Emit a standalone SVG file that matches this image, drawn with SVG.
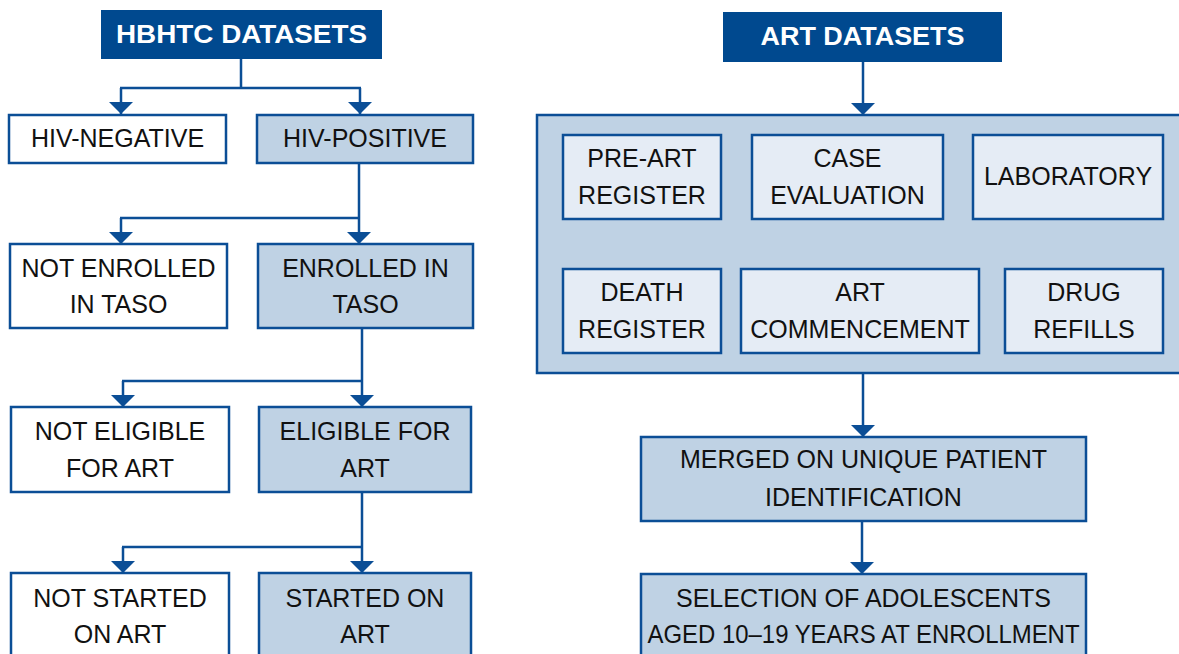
<svg xmlns="http://www.w3.org/2000/svg" width="1179" height="654" viewBox="0 0 1179 654">
<style>
.hdr{fill:#00498f;stroke:#00498f;stroke-width:2}
.hdrt{fill:#ffffff;font-family:"Liberation Sans",Arial,sans-serif;font-weight:bold;font-size:26px;text-anchor:middle}
.w{fill:#ffffff;stroke:#0b4e96;stroke-width:2.5}
.b{fill:#bfd2e4;stroke:#0b4e96;stroke-width:2.5}
.s{fill:#e5ecf5;stroke:#0b4e96;stroke-width:2.5}
.t{fill:#111111;font-family:"Liberation Sans",Arial,sans-serif;font-size:25px;text-anchor:middle}
.c{fill:none;stroke:#0b4e96;stroke-width:2.5}
</style>
<defs>
<marker id="ah" viewBox="0 0 12 24" refX="12" refY="12" markerWidth="12" markerHeight="24" markerUnits="userSpaceOnUse" orient="auto">
<path d="M0,0 L12,12 L0,24 z" fill="#0b4e96"/>
</marker>
</defs>
<rect width="1179" height="654" fill="#ffffff"/>

<g id="connectors">
<path class="c" d="M241,58 V88 M120,88 H361"/>
<path class="c" d="M121,88 V114" marker-end="url(#ah)"/>
<path class="c" d="M360,88 V114" marker-end="url(#ah)"/>
<path class="c" d="M359,163 V218 M120,218 H360"/>
<path class="c" d="M121,218 V244" marker-end="url(#ah)"/>
<path class="c" d="M359,218 V244" marker-end="url(#ah)"/>
<path class="c" d="M362,328 V381 M122,381 H363"/>
<path class="c" d="M123,381 V407" marker-end="url(#ah)"/>
<path class="c" d="M362,381 V407" marker-end="url(#ah)"/>
<path class="c" d="M362,492 V547 M122,547 H363"/>
<path class="c" d="M123,547 V573" marker-end="url(#ah)"/>
<path class="c" d="M362,547 V573" marker-end="url(#ah)"/>
<path class="c" d="M863,61 V115" marker-end="url(#ah)"/>
<path class="c" d="M863,373 V437" marker-end="url(#ah)"/>
<path class="c" d="M862,521 V574" marker-end="url(#ah)"/>
</g>

<g id="hbhtc">
<rect class="hdr" x="102" y="11" width="279" height="47"/>
<text class="hdrt" x="241.5" y="43" textLength="251" lengthAdjust="spacingAndGlyphs">HBHTC DATASETS</text>
</g>
<g id="hiv-negative">
<rect class="w" x="9" y="115" width="217" height="48"/>
<text class="t" x="117.5" y="147">HIV-NEGATIVE</text>
</g>
<g id="hiv-positive">
<rect class="b" x="257" y="115" width="216" height="48"/>
<text class="t" x="365" y="147">HIV-POSITIVE</text>
</g>
<g id="not-enrolled">
<rect class="w" x="10" y="244" width="217" height="84"/>
<text class="t" x="118.5" y="277">NOT ENROLLED</text>
<text class="t" x="118.5" y="313">IN TASO</text>
</g>
<g id="enrolled">
<rect class="b" x="258" y="244" width="215" height="84"/>
<text class="t" x="365.5" y="277">ENROLLED IN</text>
<text class="t" x="365.5" y="313">TASO</text>
</g>
<g id="not-eligible">
<rect class="w" x="11" y="407" width="218" height="85"/>
<text class="t" x="120" y="440">NOT ELIGIBLE</text>
<text class="t" x="120" y="477">FOR ART</text>
</g>
<g id="eligible">
<rect class="b" x="259" y="407" width="212" height="85"/>
<text class="t" x="365" y="440">ELIGIBLE FOR</text>
<text class="t" x="365" y="477">ART</text>
</g>
<g id="not-started">
<rect class="w" x="11" y="573" width="218" height="90"/>
<text class="t" x="120" y="607">NOT STARTED</text>
<text class="t" x="120" y="643">ON ART</text>
</g>
<g id="started">
<rect class="b" x="259" y="573" width="212" height="90"/>
<text class="t" x="365" y="607">STARTED ON</text>
<text class="t" x="365" y="643">ART</text>
</g>

<g id="art">
<rect class="hdr" x="724" y="13" width="277" height="48"/>
<text class="hdrt" x="862.5" y="45" textLength="204" lengthAdjust="spacingAndGlyphs">ART DATASETS</text>
</g>
<g id="panel">
<rect class="b" x="537" y="115" width="660" height="258"/>
</g>
<g id="pre-art">
<rect class="s" x="563" y="135" width="158" height="84"/>
<text class="t" x="642" y="167">PRE-ART</text>
<text class="t" x="642" y="204">REGISTER</text>
</g>
<g id="case-eval">
<rect class="s" x="752" y="135" width="191" height="84"/>
<text class="t" x="847.5" y="167">CASE</text>
<text class="t" x="847.5" y="204">EVALUATION</text>
</g>
<g id="laboratory">
<rect class="s" x="973" y="135" width="190" height="84"/>
<text class="t" x="1068" y="185">LABORATORY</text>
</g>
<g id="death">
<rect class="s" x="563" y="269" width="158" height="84"/>
<text class="t" x="642" y="301">DEATH</text>
<text class="t" x="642" y="338">REGISTER</text>
</g>
<g id="art-comm">
<rect class="s" x="741" y="269" width="238" height="84"/>
<text class="t" x="860" y="301">ART</text>
<text class="t" x="860" y="338">COMMENCEMENT</text>
</g>
<g id="drug">
<rect class="s" x="1005" y="269" width="158" height="84"/>
<text class="t" x="1084" y="301">DRUG</text>
<text class="t" x="1084" y="338">REFILLS</text>
</g>
<g id="merged">
<rect class="b" x="641" y="437" width="445" height="84"/>
<text class="t" x="863.5" y="468">MERGED ON UNIQUE PATIENT</text>
<text class="t" x="863.5" y="506">IDENTIFICATION</text>
</g>
<g id="selection">
<rect class="b" x="641" y="574" width="445" height="90"/>
<text class="t" x="863.5" y="607">SELECTION OF ADOLESCENTS</text>
<text class="t" x="863.5" y="643" textLength="432" lengthAdjust="spacingAndGlyphs">AGED 10–19 YEARS AT ENROLLMENT</text>
</g>
</svg>
